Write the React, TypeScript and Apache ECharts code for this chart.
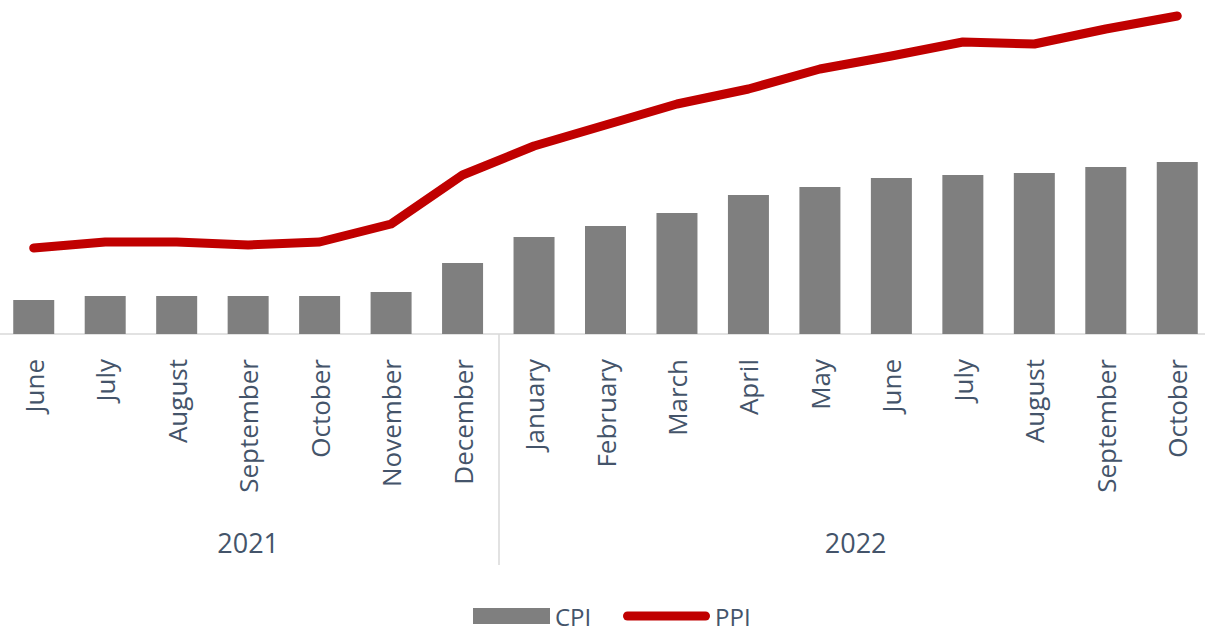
import React, { useEffect, useRef } from "react";
import * as echarts from "echarts";

const months = [
  "June", "July", "August", "September", "October", "November", "December",
  "January", "February", "March", "April", "May", "June", "July", "August", "September", "October",
];
const years = ["2021", "2022"];
const yearCounts = [7, 10];
const cpi = [34, 38, 38, 38, 38, 42, 71, 97, 108, 121, 139, 147, 156, 159, 161, 167, 172];
const ppi = [86, 92, 92, 89, 92, 110, 159, 188, 209, 230, 245, 265, 278, 292, 290, 305, 318];

const TEXT = "#44546A";
const FONT = "Open Sans";

export default function App() {
  const ref = useRef<HTMLDivElement>(null);
  useEffect(() => {
    if (!ref.current) return;
    const chart = echarts.init(ref.current, undefined, { renderer: "svg" });
    const centers: number[] = [];
    const seps: number[] = [];
    let start = 0;
    yearCounts.forEach((c, i) => {
      centers.push(start + (c - 1) / 2);
      if (i < yearCounts.length - 1) seps.push(start + c - 0.5);
      start += c;
    });
    const legendText = { color: TEXT, fontFamily: FONT, fontSize: 24, lineHeight: 24 };
    chart.setOption({
      animation: false,
      grid: { left: 0, width: 1215, top: 0, height: 334 },
      legend: [
        {
          data: [{ name: "CPI", icon: "rect" }],
          left: 475,
          top: 604,
          padding: 0,
          itemWidth: 77,
          itemHeight: 16,
          textStyle: legendText,
        },
        {
          data: [
            {
              name: "PPI",
              icon: "path://M4.5,0 H82.5 A4.5,4.5 0 0 1 82.5,9 H4.5 A4.5,4.5 0 0 1 4.5,0 Z",
            },
          ],
          left: 625,
          top: 604,
          padding: 0,
          itemWidth: 87,
          itemHeight: 9,
          textStyle: legendText,
        },
      ],
      xAxis: [
        {
          type: "category",
          data: months,
          boundaryGap: true,
          axisLine: { lineStyle: { color: "#D9D9D9", width: 1.5 } },
          axisTick: { show: false },
          axisLabel: {
            rotate: 90,
            margin: 25,
            color: TEXT,
            fontFamily: FONT,
            fontSize: 26,
            interval: 0,
          },
        },
        {
          type: "value",
          position: "bottom",
          min: -0.5,
          max: months.length - 0.5,
          axisLine: { show: false },
          splitLine: { show: false },
          axisTick: {
            show: true,
            customValues: seps,
            length: 231,
            lineStyle: { color: "#D9D9D9", width: 1.5 },
          },
          axisLabel: {
            customValues: centers,
            margin: 195,
            color: TEXT,
            fontFamily: FONT,
            fontSize: 27,
            formatter: (v: number) => {
              const i = centers.findIndex((c) => Math.abs(c - v) < 1e-6);
              return i >= 0 ? years[i] : "";
            },
          },
        },
      ],
      yAxis: { type: "value", min: 0, max: 334, show: false },
      series: [
        {
          name: "CPI",
          type: "bar",
          xAxisIndex: 0,
          data: cpi,
          barWidth: 41,
          itemStyle: { color: "#7F7F7F" },
        },
        {
          name: "PPI",
          type: "line",
          xAxisIndex: 0,
          data: ppi,
          showSymbol: false,
          symbol: "none",
          itemStyle: { color: "#C00000" },
          lineStyle: { color: "#C00000", width: 9, cap: "round", join: "round" },
        },
      ],
    });
    return () => chart.dispose();
  }, []);
  return (
    <div
      ref={ref}
      style={{ position: "fixed", left: -2, top: 0, width: 1215, height: 634, background: "#fff" }}
    />
  );
}
